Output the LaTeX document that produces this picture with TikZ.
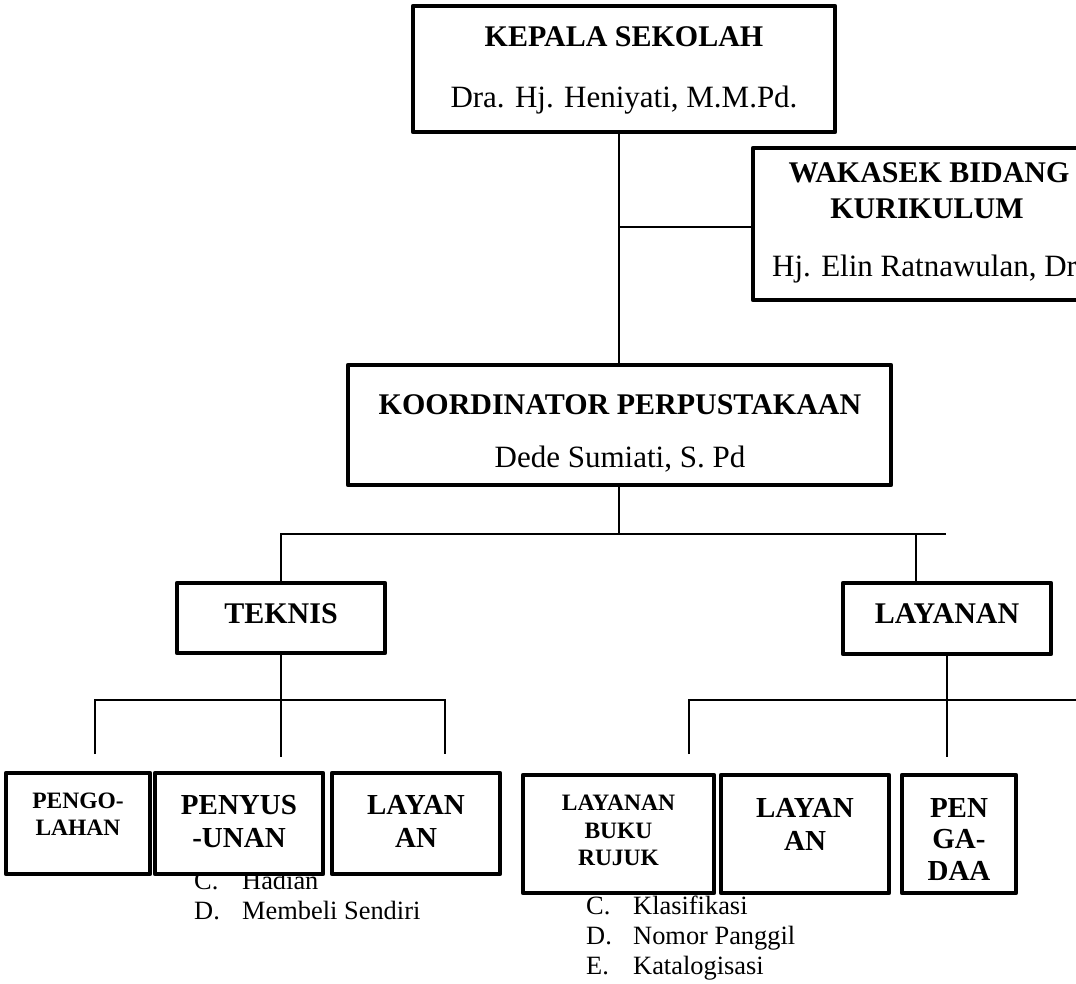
\documentclass[tikz,border=0pt]{standalone}
\usepackage{fontspec}
\setmainfont{Liberation Serif}
\usepackage{tikz}

\begin{document}
\begin{tikzpicture}[x=1pt,y=-1pt,
  orgbox/.style={draw,line width=4.2pt,line join=round,fill=white,inner sep=0pt},
  link/.style={line width=1.4pt},
  headtitle/.style={font=\fontsize{30}{32}\selectfont\bfseries,anchor=base,inner sep=0pt},
  headname/.style={font=\fontsize{31}{34}\selectfont,anchor=base,inner sep=0pt},
  unitlabel/.style={font=\fontsize{29}{32.5}\selectfont\bfseries,align=center,inner sep=0pt},
  subunitlabel/.style={font=\fontsize{23.5}{27.5}\selectfont\bfseries,align=center,inner sep=0pt},
  listitem/.style={font=\fontsize{26.4}{28}\selectfont,anchor=base west,inner sep=0pt}]
\path[use as bounding box] (0,0) rectangle (1076,984);
\clip (0,0) rectangle (1076,984);

% lists (partly under the boxes)
\node[listitem] (hadC) at (194,889) {C.};
\node[listitem] (hadCt) at (242,889) {Hadian};
\node[listitem] (hadD) at (194,919) {D.};
\node[listitem] (hadDt) at (242,919) {Membeli Sendiri};
\node[listitem] (olahC) at (586,914) {C.};
\node[listitem] (olahCt) at (633,914) {Klasifikasi};
\node[listitem] (olahD) at (586,944) {D.};
\node[listitem] (olahDt) at (633,944) {Nomor Panggil};
\node[listitem] (olahE) at (586,974) {E.};
\node[listitem] (olahEt) at (633,974) {Katalogisasi};

% top
\node[orgbox,minimum width=422pt,minimum height=126pt] (kepala) at (624,69) {};
\node[headtitle] (kepalaT) at (624,47) {KEPALA SEKOLAH};
\node[headname] (kepalaN) at (624,108) {Dra. Hj. Heniyati, M.M.Pd.};

\node[orgbox,minimum width=354pt,minimum height=152pt] (wakasek) at (930,224) {};
\node[headtitle] (wakasekT) at (929,183) {WAKASEK BIDANG};
\node[headtitle] (wakasekT2) at (927,219) {KURIKULUM};
\node[headname,anchor=base west] (wakasekN) at (772,277) {Hj. Elin Ratnawulan, Dra.};

\node[orgbox,minimum width=543pt,minimum height=120pt] (koord) at (619.5,425) {};
\node[headtitle] (koordT) at (620,414) {KOORDINATOR PERPUSTAKAAN};
\node[headname] (koordN) at (620,467) {Dede Sumiati, S. Pd};

% bidang
\node[orgbox,minimum width=208pt,minimum height=70pt] (teknis) at (281,618) {};
\node[headtitle] (teknisT) at (281,623) {TEKNIS};
\node[orgbox,minimum width=208pt,minimum height=71pt] (layanan) at (947,618.5) {};
\node[headtitle] (layananT) at (947,623) {LAYANAN};

% seksi
\node[orgbox,minimum width=144pt,minimum height=101pt] (pengo) at (78,823.5) {};
\node[subunitlabel] (pengoT) at (78,814) {PENGO-\\LAHAN};
\node[orgbox,minimum width=168pt,minimum height=101pt] (penyus) at (239,823.5) {};
\node[unitlabel] (penyusT) at (239,821.5) {PENYUS\\-UNAN};
\node[orgbox,minimum width=168pt,minimum height=101pt] (layanA) at (416,823.5) {};
\node[unitlabel] (layanAT) at (416,821.5) {LAYAN\\AN};
\node[orgbox,minimum width=191pt,minimum height=118pt] (rujuk) at (618.5,834) {};
\node[subunitlabel] (rujukT) at (618.5,830.5) {LAYANAN\\BUKU\\RUJUK};
\node[orgbox,minimum width=168pt,minimum height=118pt] (layanB) at (805,834) {};
\node[unitlabel] (layanBT) at (805,824.5) {LAYAN\\AN};
\node[orgbox,minimum width=114pt,minimum height=118pt] (pengadaan) at (959,834) {};
\node[unitlabel,font=\fontsize{29}{31.5}\selectfont\bfseries] (pengadaanT) at (959,839.5) {PEN\\GA-\\DAA};

% lines
\coordinate (spine) at (619,0);
\coordinate (wakTee) at (619,227);
\coordinate (midBar) at (619,534);
\coordinate (barEnd) at (946,534);
\coordinate (layDrop) at (916,534);
\coordinate (tekL) at (95,700);
\coordinate (tekR) at (445,700);
\coordinate (layL) at (689,700);
\coordinate (layR) at (1076,700);
\coordinate (footA) at (0,754);
\coordinate (footB) at (0,757);
\draw[link] (kepala.south -| spine) -- (koord.north -| spine);
\draw[link] (wakTee) -- (wakTee -| wakasek.west);
\draw[link] (koord.south -| spine) -- (midBar);
\draw[link] (teknis.north) -- (teknis.north |- midBar) -- (barEnd);
\draw[link] (layDrop) -- (layDrop |- layanan.north);
\draw[link] (teknis.south) -- (teknis.south |- footB);
\draw[link] (tekL |- footA) -- (tekL) -- (tekR) -- (tekR |- footA);
\draw[link] (layanan.south) -- (layanan.south |- footB);
\draw[link] (layL |- footA) -- (layL) -- (layR);
\end{tikzpicture}
\end{document}
